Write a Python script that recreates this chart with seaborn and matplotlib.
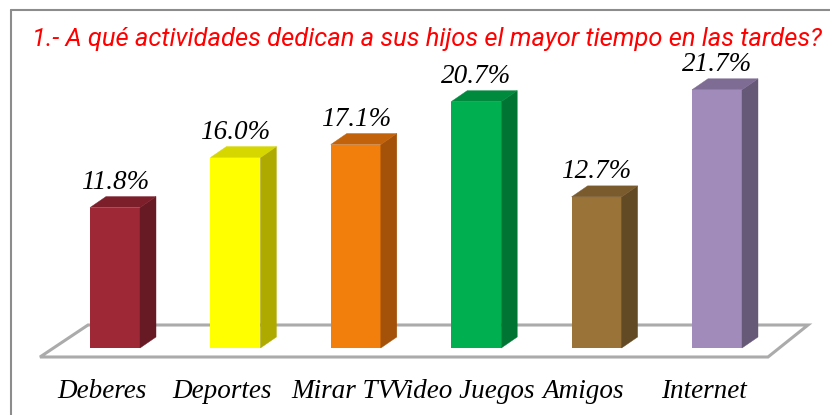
import matplotlib
matplotlib.use("Agg")
import matplotlib.pyplot as plt
import matplotlib.transforms as mtransforms
from matplotlib.patches import Polygon
from matplotlib.lines import Line2D
import seaborn as sns
import pandas as pd

categories = ["Deberes", "Deportes", "Mirar TV", "Video Juegos", "Amigos", "Internet"]
values = [11.8, 16.0, 17.1, 20.7, 12.7, 21.7]
value_labels = ["11.8%", "16.0%", "17.1%", "20.7%", "12.7%", "21.7%"]
front_colors = ["#9E2836", "#FFFF00", "#F27E0C", "#00B050", "#9A7339", "#A18BBA"]
top_colors = ["#7C1F2B", "#D6D600", "#C2620A", "#008A3E", "#7A5B2D", "#7E6C94"]
side_colors = ["#671A24", "#AFAA00", "#A4520A", "#007433", "#624A24", "#665877"]
title = "1.- A qué actividades dedican a sus hijos el mayor tiempo en las tardes?"

sns.set_theme(style="white")
plt.rcParams["font.family"] = ["DejaVu Sans"]

W, H = 830, 415
fig = plt.figure(figsize=(W / 100, H / 100), dpi=100)
px_per_cat = 120.4
px_per_unit = 11.9
left_px = 115 - 0.5 * px_per_cat
bottom_px = 67
ax = fig.add_axes([left_px / W, bottom_px / H, 6 * px_per_cat / W, 25 * px_per_unit / H])

df = pd.DataFrame({"cat": categories, "val": values})
sns.barplot(data=df, x="cat", y="val", hue="cat", palette=front_colors,
            width=50 / px_per_cat, saturation=1, legend=False, ax=ax, zorder=3,
            edgecolor="none", linewidth=0)
ax.set_xlim(-0.5, 5.5)
ax.set_ylim(0, 25)

dx = 16 / px_per_cat
dy = 11 / px_per_unit

bars = list(ax.patches)

# floor plate
fy0 = -9 / px_per_unit
fy1 = 23 / px_per_unit
fxl0 = (40 - 115) / px_per_cat
fxr0 = (768 - 115) / px_per_cat
fxl1 = (88 - 115) / px_per_cat
fxr1 = (808 - 115) / px_per_cat
floor = Polygon([(fxl0, fy0), (fxr0, fy0), (fxr1, fy1), (fxl1, fy1)], closed=True,
                facecolor="white", edgecolor="#ABABAB", lw=2.2, zorder=1, clip_on=False)
ax.add_patch(floor)

for i, p in enumerate(bars):
    x0 = p.get_x()
    w = p.get_width()
    h = p.get_height()
    x1 = x0 + w
    side = Polygon([(x1, 0), (x1, h), (x1 + dx, h + dy), (x1 + dx, dy)], closed=True,
                   facecolor=side_colors[i], edgecolor=side_colors[i], lw=0.3, zorder=3, clip_on=False)
    top = Polygon([(x0, h), (x0 + dx, h + dy), (x1 + dx, h + dy), (x1, h)], closed=True,
                  facecolor=top_colors[i], edgecolor=top_colors[i], lw=0.3, zorder=3, clip_on=False)
    ax.add_patch(side)
    ax.add_patch(top)
    ax.annotate(value_labels[i], (x0 + w / 2, h + dy), xytext=(0, 1), textcoords="offset points",
                ha="center", va="bottom", fontsize=19.5, style="italic",
                family="Liberation Serif", color="black", zorder=5)

ax.set_xlabel("")
ax.set_ylabel("")
ax.set_yticks([])
ax.set_xticks(range(len(categories)))
ax.set_xticklabels(categories, fontsize=19.5, style="italic", family="Liberation Serif",
                   color="black")
ax.tick_params(axis="x", length=0, pad=22)
offset = mtransforms.ScaledTranslation(-13 / 100, 0, fig.dpi_scale_trans)
for lab in ax.get_xticklabels():
    lab.set_transform(lab.get_transform() + offset)
for s in ax.spines.values():
    s.set_visible(False)
ax.patch.set_alpha(0)

fig.text(427 / W, 1 - 39 / H, title, ha="center", va="center", color="#FF0000",
         fontsize=18.4, style="italic", family=["Roboto", "DejaVu Sans"])

fig.add_artist(Line2D([11 / W, 11 / W], [0, 1 - 10 / H], color="#8C8C8C", lw=1.5,
                      transform=fig.transFigure))
fig.add_artist(Line2D([11 / W, 1], [1 - 10 / H, 1 - 10 / H], color="#8C8C8C", lw=1.5,
                      transform=fig.transFigure))

fig.savefig("out.png", dpi=100, facecolor="white")
